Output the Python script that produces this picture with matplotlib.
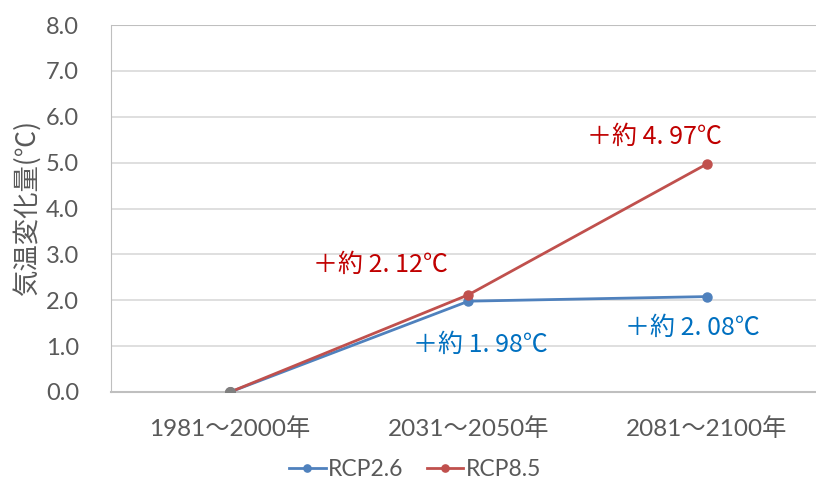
import matplotlib.pyplot as plt

periods = ['1981～2000年', '2031～2050年', '2081～2100年']
rcp26 = [0.0, 1.98, 2.08]
rcp85 = [0.0, 2.12, 4.97]
yticks = [0, 1, 2, 3, 4, 5, 6, 7, 8]

blue = '#4F81BD'
red = '#C0504D'
fam = ['Lato', 'Noto Sans CJK JP', 'DejaVu Sans']

fig = plt.figure(figsize=(8.16, 4.83), dpi=100)
ax = fig.add_axes([111 / 816, 1 - 392 / 483, 715 / 816, 367 / 483])

x = list(range(len(periods)))
ax.plot(x, rcp26, color=blue, lw=2, marker='o', ms=6.5, label='RCP2.6', zorder=3)
ax.plot(x, rcp85, color=red, lw=2, marker='o', ms=6.5, label='RCP8.5', zorder=4)
# shared starting point
ax.plot(x[0], rcp85[0], 'o', color='#7f7f7f', ms=7, zorder=5)

ax.set_xlim(-0.5, 2.5)
ax.set_ylim(0, 8)
ax.set_yticks(yticks)
ax.set_yticklabels([f'{v:.1f}' for v in yticks], family=fam, fontsize=17, color='#595959')
ax.set_xticks(x)
ax.set_xticklabels(periods, family=fam, fontsize=17.5, color='#595959')
ax.tick_params(axis='y', length=0, pad=23)
ax.tick_params(axis='x', length=0, pad=18)
ax.grid(axis='y', color='#d9d9d9', lw=1.2)
ax.set_axisbelow(True)
for s in ['top', 'right']:
    ax.spines[s].set_visible(False)
ax.spines['left'].set_color('#bfbfbf')
ax.spines['bottom'].set_color('#bfbfbf')
ax.spines['bottom'].set_linewidth(1.5)
ax.axhline(8, color='#bfbfbf', lw=1.5)

ax.set_ylabel('気温変化量(℃)', family=['Noto Sans CJK JP', 'DejaVu Sans'],
              fontsize=19, color='#595959', labelpad=4)

lab_font = ['Noto Sans CJK JP', 'DejaVu Sans']
ax.text(0.63, 2.77, f'＋約 2. 12℃', color='#C00000', fontsize=18, family=lab_font, ha='center', va='center')
ax.text(1.05, 1.02, f'＋約 1. 98℃', color='#0070C0', fontsize=18, family=lab_font, ha='center', va='center')
ax.text(1.78, 5.56, f'＋約 4. 97℃', color='#C00000', fontsize=18, family=lab_font, ha='center', va='center')
ax.text(1.94, 1.40, f'＋約 2. 08℃', color='#0070C0', fontsize=18, family=lab_font, ha='center', va='center')

fig.legend(loc='center', bbox_to_anchor=(415 / 816, 1 - 470 / 483), ncol=2, frameon=False,
           prop={'family': fam, 'size': 16.5}, handlelength=1.6, columnspacing=1.0,
           handletextpad=0.1, labelcolor='#595959', markerscale=0.8)

fig.savefig('out.png', dpi=100)
